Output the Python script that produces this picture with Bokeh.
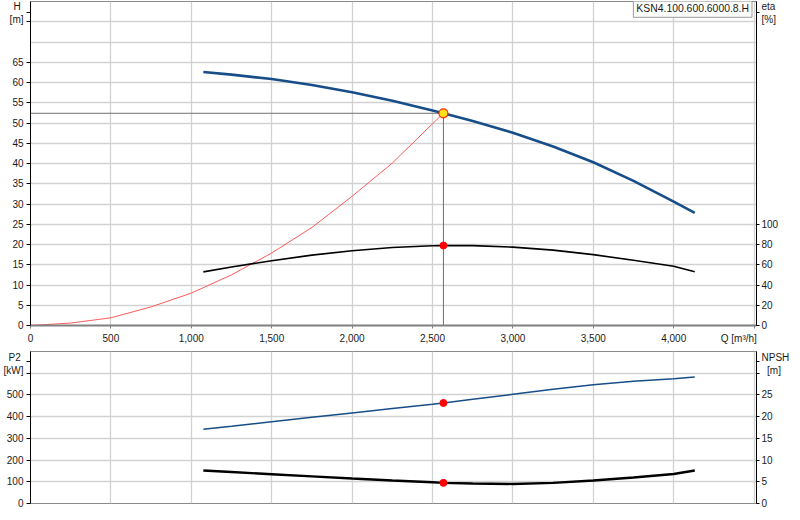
from bokeh.plotting import figure
from bokeh.models import Range1d, LinearAxis, FixedTicker, NumeralTickFormatter, Label
from bokeh.layouts import column
from bokeh.embed import file_html
from bokeh.resources import INLINE

# ---------------- data ----------------
model_name = "KSN4.100.600.6000.8.H"

q_pump = [1075, 1250, 1500, 1750, 2000, 2250, 2500, 2568, 2750, 3000, 3250, 3500, 3750, 4000, 4131]
head = [62.6, 61.95, 60.85, 59.4, 57.6, 55.5, 53.1, 52.4, 50.5, 47.6, 44.2, 40.3, 35.7, 30.6, 27.8]
eta = [53.0, 57.8, 64.0, 69.5, 73.9, 77.0, 78.8, 79.0, 78.9, 77.4, 74.4, 70.0, 64.5, 58.5, 53.0]
p2 = [342, 356, 377, 397, 417, 437, 457, 463, 480, 503, 526, 547, 563, 575, 583]
npsh = [7.6, 7.25, 6.75, 6.25, 5.75, 5.3, 4.9, 4.75, 4.6, 4.5, 4.75, 5.3, 6.0, 6.8, 7.6]

q_sys = [0, 250, 500, 750, 1000, 1250, 1500, 1750, 2000, 2250, 2500, 2568]
h_sys = [0, 0.6, 1.9, 4.6, 8.0, 12.5, 17.9, 24.2, 31.9, 40.1, 49.8, 52.4]

q_op = 2568
h_op = 52.4
eta_op = 79.0
p2_op = 463
npsh_op = 4.75

x_ticks = [0, 500, 1000, 1500, 2000, 2500, 3000, 3500, 4000, 4500]
h_ticks = [0, 5, 10, 15, 20, 25, 30, 35, 40, 45, 50, 55, 60, 65, 75, 77.3]
h_grid = [0, 5, 10, 15, 20, 25, 30, 35, 40, 45, 50, 55, 60, 65, 70, 75]
eta_ticks = [0, 20, 40, 60, 80, 100, 309.2]
p2_ticks = [0, 100, 200, 300, 400, 500, 600, 652]
p2_grid = [0, 100, 200, 300, 400, 500, 600]
npsh_ticks = [0, 5, 10, 15, 20, 25, 30, 32.6]

NB = "\u00a0"
x_unit_label = "Q [m³/h]"
h_label = "H" + NB + "\n[m]"
eta_label = "eta\n[%]"
p2_label = "P2" + NB + "\n[kW]"
npsh_label = "NPSH\n" + NB * 2 + "[m]"

# ---------------- styling ----------------
FONT = "Liberation Sans"
FS = "10px"
TXT = "#1a1a1a"
GRID = "#d2d2d2"
BLUE = "#174d88"
X_MAX = 4515

W = 792
BL, BR = 30, 33


def style_axis(ax, line_color="black"):
    ax.axis_line_color = line_color
    ax.axis_line_width = 1
    ax.major_tick_line_color = line_color
    ax.major_tick_out = 4
    ax.major_tick_in = 0
    ax.minor_tick_line_color = None
    ax.major_label_text_font = FONT
    ax.major_label_text_font_size = FS
    ax.major_label_text_color = TXT
    ax.major_label_standoff = 3


def base_fig(height, y_end, border_top, border_bottom):
    p = figure(width=W, height=height, output_backend="svg", toolbar_location=None,
               x_range=Range1d(0, X_MAX), y_range=Range1d(0, y_end),
               min_border_left=BL, min_border_right=BR, min_border_top=border_top,
               min_border_bottom=border_bottom)
    p.background_fill_color = "white"
    p.border_fill_color = "white"
    p.outline_line_color = "#8a8a8a"
    p.outline_line_width = 1
    p.xgrid.ticker = FixedTicker(ticks=x_ticks)
    p.xgrid.grid_line_color = GRID
    p.xgrid.grid_line_width = 1.3
    p.ygrid.grid_line_color = GRID
    p.ygrid.grid_line_width = 1.3
    return p


# ---------------- top chart: H / eta ----------------
p1 = base_fig(351, 80, 1, 26)
p1.extra_y_ranges = {"eta": Range1d(0, 320)}
p1.ygrid.ticker = FixedTicker(ticks=h_grid)

p1.xaxis.ticker = FixedTicker(ticks=x_ticks)
p1.xaxis.formatter = NumeralTickFormatter(format="0,0")
p1.xaxis.major_label_overrides = {4500: x_unit_label + NB * 11}
style_axis(p1.xaxis[0], "#808080")
p1.xaxis.axis_line_width = 2
p1.xaxis.major_tick_out = 3
p1.xaxis.major_label_standoff = 4

p1.yaxis.ticker = FixedTicker(ticks=h_ticks)
p1.yaxis.major_label_overrides = {75: "", 77.3: h_label}
style_axis(p1.yaxis[0])

ax_eta = LinearAxis(y_range_name="eta", ticker=FixedTicker(ticks=eta_ticks))
style_axis(ax_eta)
ax_eta.major_tick_out = 3
ax_eta.major_label_standoff = 2
ax_eta.major_label_overrides = {309.2: eta_label}
p1.add_layout(ax_eta, "right")

# operating point guide lines
p1.line([0, q_op], [h_op, h_op], line_color="#707070", line_width=1)
p1.line([q_op, q_op], [0, h_op], line_color="#707070", line_width=1)

# system curve
p1.line(q_sys, h_sys, line_color="#ff5a5a", line_width=1)
# efficiency
p1.line(q_pump, eta, y_range_name="eta", line_color="black", line_width=1.6)
# head
p1.line(q_pump, head, line_color=BLUE, line_width=2.6)

p1.scatter([q_op], [eta_op], y_range_name="eta", size=7, fill_color="#ff0000", line_color="#ff0000")
p1.scatter([q_op], [h_op], size=9, fill_color="#ffe01a", line_color="#ff2a00", line_width=1.2)

p1.add_layout(Label(x=4487, y=78.2, text=model_name, text_align="right", text_baseline="middle",
                    text_font=FONT, text_font_size="10.4px", text_color=TXT,
                    background_fill_color="white", border_line_color="#9a9a9a",
                    border_line_width=1, padding=3))

# ---------------- bottom chart: P2 / NPSH ----------------
p2f = base_fig(160, 700, 0, 8)
p2f.extra_y_ranges = {"npsh": Range1d(0, 35)}
p2f.xaxis.visible = False
p2f.ygrid.ticker = FixedTicker(ticks=p2_grid)

p2f.yaxis.ticker = FixedTicker(ticks=p2_ticks)
p2f.yaxis.major_label_overrides = {600: "", 652: p2_label}
style_axis(p2f.yaxis[0])

ax_npsh = LinearAxis(y_range_name="npsh", ticker=FixedTicker(ticks=npsh_ticks))
style_axis(ax_npsh)
ax_npsh.major_tick_out = 3
ax_npsh.major_label_standoff = 2
ax_npsh.major_label_overrides = {30: "", 32.6: npsh_label}
p2f.add_layout(ax_npsh, "right")

p2f.line(q_pump, p2, line_color=BLUE, line_width=1.5)
p2f.line(q_pump, npsh, y_range_name="npsh", line_color="black", line_width=2.4)
p2f.scatter([q_op], [p2_op], size=7, fill_color="#ff0000", line_color="#ff0000")
p2f.scatter([q_op], [npsh_op], y_range_name="npsh", size=7, fill_color="#ff0000", line_color="#ff0000")

layout = column(p1, p2f, spacing=0)
open("out.html", "w").write(file_html(layout, INLINE))
